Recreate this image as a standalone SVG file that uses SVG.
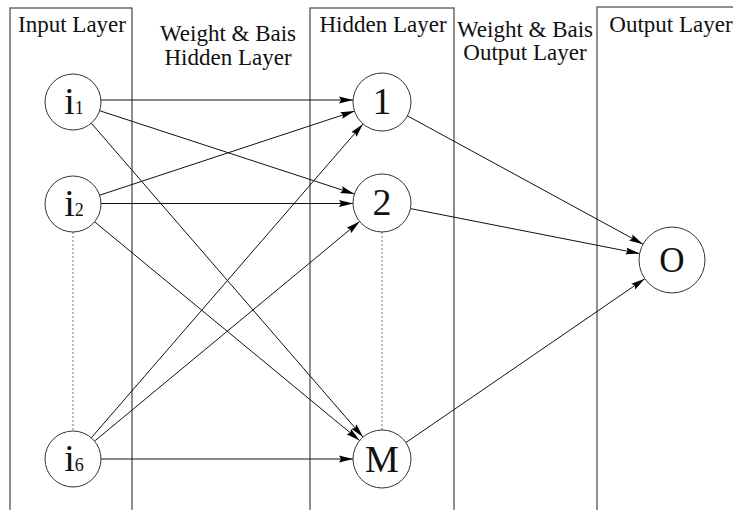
<svg xmlns="http://www.w3.org/2000/svg" width="733" height="510" viewBox="0 0 733 510">
<style>
.lay{fill:none;stroke:#444;stroke-width:1.2}
.hd{font-family:"Liberation Serif","Times New Roman",serif;font-size:23px;fill:#111;text-anchor:middle}
.nd{fill:#fff;stroke:#333;stroke-width:1}
.lb{font-family:"Liberation Serif","Times New Roman",serif;font-size:38px;fill:#111;text-anchor:middle}
.sb{font-size:18px}
.ed{stroke:#111;stroke-width:1;fill:none}
.dt{stroke:#777;stroke-width:1;stroke-dasharray:2,2;fill:none}
</style>
<defs>
<marker id="ah" markerUnits="userSpaceOnUse" markerWidth="15" markerHeight="8" refX="14" refY="4" orient="auto">
<path d="M0,0.5 L14,4 L0,7.5 L2,4 z" fill="#000"/>
</marker>
</defs>
<rect width="733" height="510" fill="#fff"/>
<g id="layers">
<rect class="lay" x="10" y="8" width="122" height="510"/>
<rect class="lay" x="310" y="8" width="144" height="510"/>
<rect class="lay" x="597" y="7" width="150" height="510"/>
<text class="hd" x="72" y="32">Input Layer</text>
<text class="hd" x="228" y="41">Weight &amp; Bais</text>
<text class="hd" x="228" y="65">Hidden Layer</text>
<text class="hd" x="383" y="32">Hidden Layer</text>
<text class="hd" x="525" y="37">Weight &amp; Bais</text>
<text class="hd" x="525" y="60">Output Layer</text>
<text class="hd" x="671" y="32">Output Layer</text>
</g>
<g id="connectors">
<line class="dt" x1="73" y1="232" x2="73" y2="431"/>
<line class="dt" x1="382" y1="232" x2="382" y2="430"/>
<line class="ed" x1="101" y1="100" x2="353" y2="100" marker-end="url(#ah)"/>
<line class="ed" x1="99.6" y1="110.7" x2="354.4" y2="194" marker-end="url(#ah)"/>
<line class="ed" x1="91.3" y1="123.2" x2="363" y2="437.1" marker-end="url(#ah)"/>
<line class="ed" x1="99.6" y1="195.2" x2="354.5" y2="111.1" marker-end="url(#ah)"/>
<line class="ed" x1="101" y1="203.5" x2="353" y2="203.5" marker-end="url(#ah)"/>
<line class="ed" x1="94.6" y1="221.8" x2="359.6" y2="440.5" marker-end="url(#ah)"/>
<line class="ed" x1="91.3" y1="437.8" x2="363" y2="123.9" marker-end="url(#ah)"/>
<line class="ed" x1="94.6" y1="441.1" x2="359.7" y2="221.5" marker-end="url(#ah)"/>
<line class="ed" x1="101" y1="459" x2="353" y2="459" marker-end="url(#ah)"/>
<line class="ed" x1="407.5" y1="115.9" x2="643" y2="244.2" marker-end="url(#ah)"/>
<line class="ed" x1="410.5" y1="208.6" x2="639.6" y2="253.6" marker-end="url(#ah)"/>
<line class="ed" x1="405.9" y1="442.6" x2="644.8" y2="278.7" marker-end="url(#ah)"/>
</g>
<g id="i1"><circle class="nd" cx="73" cy="102" r="28"/><text class="lb" x="74" y="114">i<tspan class="sb">1</tspan></text></g>
<g id="i2"><circle class="nd" cx="73" cy="204" r="28"/><text class="lb" x="74" y="216">i<tspan class="sb">2</tspan></text></g>
<g id="i6"><circle class="nd" cx="73" cy="459" r="28"/><text class="lb" x="74" y="471">i<tspan class="sb">6</tspan></text></g>
<g id="h1"><circle class="nd" cx="382" cy="102" r="29"/><text class="lb" x="382" y="114">1</text></g>
<g id="h2"><circle class="nd" cx="382" cy="203" r="29"/><text class="lb" x="382" y="215">2</text></g>
<g id="hM"><circle class="nd" cx="382" cy="459" r="29"/><text class="lb" x="382" y="472">M</text></g>
<g id="out"><circle class="nd" cx="672" cy="260" r="33"/><text class="lb" x="672" y="272" style="font-size:35px">O</text></g>
</svg>
